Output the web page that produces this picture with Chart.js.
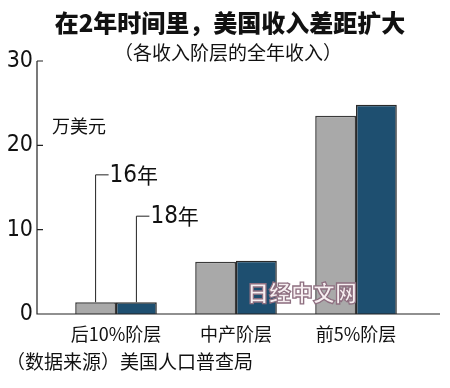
<!DOCTYPE html>
<html>
<head>
<meta charset="utf-8">
<script src="https://cdn.jsdelivr.net/npm/chart.js@4"></script>
<style>
  body { margin: 0; background: #fff; }
  #wrap { position: relative; width: 450px; height: 388px; overflow: hidden; }
  #chart { position: absolute; left: 0; top: 0; }
  .txt { position: absolute; font-family: "Noto Sans CJK SC", sans-serif; color: #111; white-space: nowrap; line-height: 1; }
  #title { left: 0; width: 460px; top: 10px; text-align: center; font-size: 24px; font-weight: 900; }
  #subtitle { left: 0; width: 456px; top: 42px; text-align: center; font-size: 19px; }
  #unit { left: 52px; top: 116px; font-size: 18px; }
  #source { left: 6px; top: 351px; font-size: 19px; }
  #mark { left: 247px; top: 280px; font-size: 22px; font-weight: 900; color: #f6eef0;
          -webkit-text-stroke: 1.3px #8e6f80; letter-spacing: 0px; }
</style>
</head>
<body>
<div id="wrap">
  <canvas id="chart" width="450" height="388"></canvas>
  <div class="txt" id="title">在2年时间里，美国收入差距扩大</div>
  <div class="txt" id="subtitle">（各收入阶层的全年收入）</div>
  <div class="txt" id="unit">万美元</div>
  <div class="txt" id="source">（数据来源）美国人口普查局</div>
  <div class="txt" id="mark">日经中文网</div>
</div>
<script>
// 数据
const categories = ['后10%阶层', '中产阶层', '前5%阶层'];
const seriesNames = ['16年', '18年'];
const income16 = [1.4, 6.2, 23.5];
const income18 = [1.4, 6.3, 24.8];
const yTicks = [0, 10, 20, 30];
// 图例引线的高度（万美元）
const legendLevels = [16.5, 11.6];

const numFont = '"Liberation Sans Narrow", "DejaVu Sans Condensed", sans-serif';

// 手绘坐标轴与引线标注
const axisPlugin = {
    id: 'axisPlugin',
    afterDraw(chart) {
        const ctx = chart.ctx;
        const yScale = chart.scales.y;
        const area = chart.chartArea;
        const axisX = 37;
        ctx.save();
        ctx.strokeStyle = '#222';
        ctx.lineWidth = 1.2;
        ctx.beginPath();
        ctx.moveTo(axisX, yScale.getPixelForValue(30));
        ctx.lineTo(axisX, area.bottom);
        ctx.lineTo(440, area.bottom);
        yTicks.forEach(v => {
            const py = yScale.getPixelForValue(v);
            ctx.moveTo(axisX, py);
            ctx.lineTo(axisX + 6, py);
        });
        ctx.stroke();

        // 引线
        ctx.lineWidth = 1;
        ctx.fillStyle = '#111';
        ctx.textBaseline = 'middle';
        seriesNames.forEach((name, i) => {
            const bar = chart.getDatasetMeta(i).data[0];
            const py = yScale.getPixelForValue(legendLevels[i]);
            ctx.beginPath();
            ctx.moveTo(bar.x, bar.y);
            ctx.lineTo(bar.x, py);
            ctx.lineTo(bar.x + 13, py);
            ctx.stroke();
            const num = name.slice(0, 2);
            ctx.font = '24px ' + numFont;
            ctx.fillText(num, bar.x + 14, py + 1);
            const w = ctx.measureText(num).width;
            ctx.font = '21px "Noto Sans CJK SC", sans-serif';
            ctx.fillText(name.slice(2), bar.x + 14 + w, py);
        });
        ctx.restore();
    }
};

new Chart(document.getElementById('chart'), {
    type: 'bar',
    data: {
        labels: categories,
        datasets: [
            { label: seriesNames[0], data: income16, backgroundColor: '#a9a9a9', borderColor: '#3a3a3a', borderWidth: 1.5 },
            { label: seriesNames[1], data: income18, backgroundColor: '#1e4f70', borderColor: '#2a2a2a', borderWidth: 1.5 }
        ]
    },
    options: {
        responsive: false,
        animation: false,
        layout: { padding: { top: 61, right: 34, left: 0, bottom: 0 } },
        datasets: { bar: { categoryPercentage: 0.68, barPercentage: 1.0 } },
        plugins: { legend: { display: false }, tooltip: { enabled: false } },
        scales: {
            x: {
                grid: { display: false, drawTicks: false },
                border: { display: false },
                ticks: { color: '#111', padding: 9, font: { family: '"Noto Sans CJK SC", sans-serif', size: 18 } },
                afterFit(scale) { scale.height = 74; }
            },
            y: {
                min: 0,
                max: 30,
                grid: { display: false, drawTicks: false },
                border: { display: false },
                afterBuildTicks(scale) { scale.ticks = yTicks.map(v => ({ value: v })); },
                ticks: { color: '#111', padding: 23, font: { family: numFont, size: 23 } },
                afterFit(scale) { scale.width = 56; }
            }
        }
    },
    plugins: [axisPlugin]
});
</script>
</body>
</html>
